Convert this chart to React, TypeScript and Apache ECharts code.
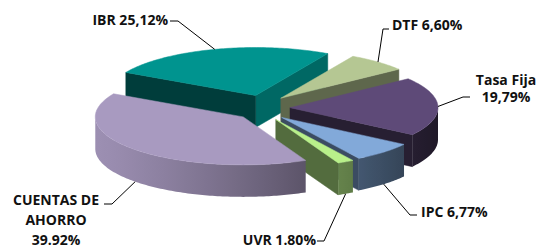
import React, { useEffect, useRef } from 'react';
import * as echarts from 'echarts';

// Data (clockwise from the DTF slice)
const categories = ['DTF', 'Tasa Fija', 'IPC', 'UVR', 'CUENTAS DE AHORRO', 'IBR'];
const shares = [6.6, 19.79, 6.77, 1.8, 39.92, 25.12];
const labelTexts = ['DTF 6,60%', 'Tasa Fija\n19,79%', 'IPC 6,77%', 'UVR 1.80%', 'CUENTAS DE\nAHORRO\n39.92%', 'IBR 25,12%'];

// Styles
const topColors = ['#b5c793', '#5e4a78', '#82a9d9', '#b9f08a', '#a89ac0', '#00948f'];
const endWallShade = [0.52, 0.42, 0.45, 0.45, 0.5, 0.7];
const startWallShade = [0.42, 0.42, 0.42, 0.42, 0.42, 0.41];

// Layout
const CX = 263, CY = 108, RX = 148, RY = 48, H = 32, EX = 27, EY = 13;
const START = 29.2; // degrees clockwise from 12 o'clock

const labelLayout: any[] = [
  { x: 392, y: 24, align: 'left', elbow: [383, 29], end: [389, 29] },
  { x: 506, y: 88, align: 'center', elbow: [463, 97], end: [470, 97], lh: 17.5 },
  { x: 421, y: 211, align: 'left', elbow: [410, 215], end: [417, 215] },
  { x: 316, y: 239, align: 'right', elbow: [324, 241], end: [317, 241] },
  { x: 56, y: 219, align: 'center', elbow: [112, 204], end: [104, 204], lh: 20 },
  { x: 168, y: 19, align: 'right', elbow: [178, 21], end: [170, 21] },
];

const rad = (d: number) => (d * Math.PI) / 180;

function shade(hex: string, f: number) {
  const n = parseInt(hex.slice(1), 16);
  const r = (n >> 16) & 255, g = (n >> 8) & 255, b = n & 255;
  const c = (v: number) => Math.max(0, Math.min(255, Math.round(v * f)));
  return `rgb(${c(r)},${c(g)},${c(b)})`;
}

export default function App() {
  const ref = useRef<HTMLDivElement>(null);
  useEffect(() => {
    if (!ref.current) return;
    const chart = echarts.init(ref.current, undefined, { renderer: 'svg' });
    const total = shares.reduce((a, b) => a + b, 0);
    const spans: [number, number][] = [];
    let acc = START;
    shares.forEach((v) => {
      const s = (v / total) * 360;
      spans.push([acc, acc + s]);
      acc += s;
    });

    const renderItem = (params: any, api: any) => {
      const i = params.dataIndex;
      const [a0, a1] = spans[i];
      const m = (a0 + a1) / 2;
      const mr = rad(m);
      const ax = CX + EX * Math.sin(mr);
      const ay = CY - EY * Math.cos(mr);
      const P = (deg: number, dz = 0) => {
        const t = rad(deg);
        return [ax + RX * Math.sin(t), ay - RY * Math.cos(t) + dz];
      };
      const children: any[] = [];
      const col0 = topColors[i];

      // top face
      const pts: number[][] = [[ax, ay]];
      const n = Math.max(2, Math.ceil(a1 - a0));
      for (let k = 0; k <= n; k++) pts.push(P(a0 + ((a1 - a0) * k) / n));
      children.push({
        type: 'polygon', z2: 1000,
        shape: { points: pts },
        style: { fill: col0, stroke: col0, lineWidth: 0.5 },
      });

      // curved outer wall (front half only), one polygon with a lit gradient
      const ranges = [[90, 270], [450, 630]];
      ranges.forEach(([lo, hi]) => {
        const s = Math.max(a0, lo), e = Math.min(a1, hi);
        if (e <= s) return;
        const cnt = Math.max(2, Math.ceil(e - s));
        const topPts: number[][] = [];
        const botPts: number[][] = [];
        for (let k = 0; k <= cnt; k++) {
          const a = s + ((e - s) * k) / cnt;
          topPts.push(P(a));
          botPts.push(P(a, H));
        }
        const x0 = topPts[0][0], x1 = topPts[cnt][0];
        const stops: any[] = [];
        const sc = Math.min(cnt, 12);
        for (let k = 0; k <= sc; k++) {
          const a = s + ((e - s) * k) / sc;
          const t = rad(a);
          const dot = -Math.sin(t) - 0.2 * Math.cos(t);
          const xx = P(a)[0];
          const off = Math.abs(x1 - x0) < 0.01 ? k / sc : (xx - x0) / (x1 - x0);
          stops.push({ offset: Math.max(0, Math.min(1, off)), color: shade(col0, 0.62 + 0.3 * dot) });
        }
        stops.sort((p: any, q: any) => p.offset - q.offset);
        const grad = new echarts.graphic.LinearGradient(Math.min(x0, x1) === x0 ? x0 : x0, 0, x1 === x0 ? x0 + 1 : x1, 0, stops, true);
        const mid = P((s + e) / 2);
        children.push({
          type: 'polygon', z2: mid[1],
          shape: { points: topPts.concat(botPts.reverse()) },
          style: { fill: grad },
        });
      });

      // radial walls
      const wall = (deg: number, f: number) => {
        const o = P(deg), ob = P(deg, H);
        const col = shade(col0, f);
        return {
          type: 'polygon', z2: (ay + o[1]) / 2,
          shape: { points: [[ax, ay], o, ob, [ax, ay + H]] },
          style: { fill: col, stroke: col, lineWidth: 0.5 },
        };
      };
      if (Math.sin(rad(a1)) > 0) children.push(wall(a1, endWallShade[i]));
      if (Math.sin(rad(a0)) < 0) children.push(wall(a0, startWallShade[i]));

      // label + leader
      const front = Math.cos(mr) < -0.1;
      const anc = P(m, front ? H : 0);
      const L = labelLayout[i];
      children.push({
        type: 'polyline', z2: 2000,
        shape: { points: [anc, L.elbow, L.end] },
        style: { stroke: '#000', lineWidth: 1, fill: null },
      });
      children.push({
        type: 'text', z2: 2001,
        style: {
          text: labelTexts[i], x: L.x, y: L.y,
          align: L.align, verticalAlign: 'middle',
          fill: '#111', fontSize: 14, fontWeight: 'bold',
          fontFamily: '"Open Sans", sans-serif',
          lineHeight: L.lh || 17,
        },
      });
      return { type: 'group', children };
    };

    chart.setOption({
      animation: false,
      backgroundColor: '#ffffff',
      series: [
        {
          type: 'custom',
          name: 'Composición',
          coordinateSystem: 'none',
          renderItem,
          data: shares.map((v, i) => ({ name: categories[i], value: [v] })),
        },
      ],
    });
    return () => chart.dispose();
  }, []);
  return (
    <div
      ref={ref}
      style={{ position: 'fixed', left: 0, top: 0, width: 540, height: 247 }}
    />
  );
}
